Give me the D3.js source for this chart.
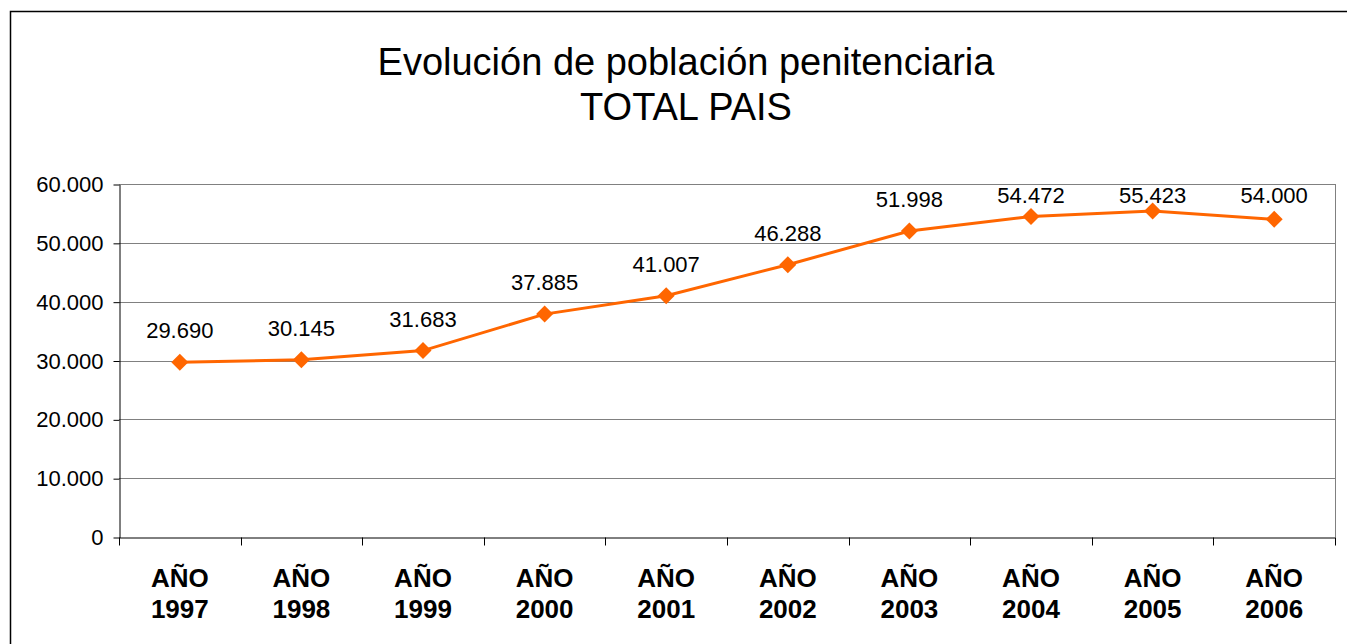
<!DOCTYPE html>
<html>
<head>
<meta charset="utf-8">
<script src="https://cdn.jsdelivr.net/npm/d3@7"></script>
<style>
  body { margin: 0; background: #fff; }
  svg { display: block; font-family: "Liberation Sans", Arial, sans-serif; }
</style>
</head>
<body>
<div id="grafico"></div>
<script>
// Datos de la grafica
var anios = ["1997", "1998", "1999", "2000", "2001", "2002", "2003", "2004", "2005", "2006"]
var poblacion = [29690, 30145, 31683, 37885, 41007, 46288, 51998, 54472, 55423, 54000]
var ticksY = [0, 10000, 20000, 30000, 40000, 50000, 60000]
var titulo = ["Evolución de población penitenciaria", "TOTAL PAIS"]

var width = 1347
var height = 644
var margin = { top: 184, right: 12, bottom: 107, left: 119 }

// formato con punto de miles
var formato = d3.formatLocale({ decimal: ",", thousands: ".", grouping: [3], currency: ["", ""] }).format(",d")

var svg = d3.select("#grafico")
    .append("svg")
    .attr("width", width)
    .attr("height", height)

// marco exterior
svg.append("rect")
    .attr("x", 10.5)
    .attr("y", 11.5)
    .attr("width", width + 20)
    .attr("height", height + 20)
    .attr("fill", "none")
    .attr("stroke", "#000")
    .attr("stroke-width", 1.5)

// titulo
svg.append("g")
    .selectAll("text")
    .data(titulo)
    .join("text")
    .attr("x", 686)
    .attr("y", (d, i) => 75 + i * 45)
    .attr("text-anchor", "middle")
    .attr("font-size", "38px")
    .attr("fill", "#000")
    .text(d => d)

var x = d3.scaleBand()
    .domain(anios)
    .range([margin.left, width - margin.right])

var y = d3.scaleLinear()
    .domain([0, 60000])
    .range([height - margin.bottom, margin.top])

// lineas de cuadricula
svg.append("g")
    .selectAll("line")
    .data(ticksY.filter(d => d > 0))
    .join("line")
    .attr("x1", margin.left)
    .attr("x2", width - margin.right)
    .attr("y1", d => Math.round(y(d)) + 0.5)
    .attr("y2", d => Math.round(y(d)) + 0.5)
    .attr("stroke", "#808080")
    .attr("stroke-width", 1)

// borde derecho del area
svg.append("line")
    .attr("x1", width - margin.right + 0.5)
    .attr("x2", width - margin.right + 0.5)
    .attr("y1", margin.top)
    .attr("y2", height - margin.bottom)
    .attr("stroke", "#808080")

// eje Y
var yAxis = svg.append("g")
    .attr("transform", "translate(" + (margin.left + 0.5) + ",0.5)")
    .call(d3.axisLeft(y).tickValues(ticksY).tickFormat(formato).tickSize(6).tickSizeOuter(0).tickPadding(10))
yAxis.select(".domain").attr("stroke", "#000")
yAxis.selectAll(".tick line").attr("stroke", "#000")
yAxis.selectAll("text")
    .attr("font-size", "22px")
    .attr("font-family", "Liberation Sans, Arial, sans-serif")
    .attr("fill", "#000")

// eje X
var xAxis = svg.append("g")
    .attr("transform", "translate(0," + (Math.round(y(0)) + 0.5) + ")")
    .call(d3.axisBottom(x).tickSize(0).tickFormat(""))
xAxis.select(".domain").attr("stroke", "#000")
xAxis.selectAll(".tick").remove()

// marcas entre categorias
var bordes = anios.map(d => x(d)).concat([width - margin.right])
xAxis.append("g")
    .selectAll("line")
    .data(bordes)
    .join("line")
    .attr("x1", d => Math.round(d) + 0.5)
    .attr("x2", d => Math.round(d) + 0.5)
    .attr("y1", 0)
    .attr("y2", 8)
    .attr("stroke", "#000")

// etiquetas de categorias
var etiquetas = svg.append("g")
    .selectAll("text")
    .data(anios)
    .join("text")
    .attr("x", d => x(d) + x.bandwidth() / 2)
    .attr("text-anchor", "middle")
    .attr("font-size", "26px")
    .attr("font-weight", "bold")
    .attr("fill", "#000")
etiquetas.append("tspan")
    .attr("x", d => x(d) + x.bandwidth() / 2)
    .attr("y", 587)
    .text("AÑO")
etiquetas.append("tspan")
    .attr("x", d => x(d) + x.bandwidth() / 2)
    .attr("y", 618)
    .text(d => d)

// linea
var datos = anios.map((a, i) => ({ anio: a, valor: poblacion[i] }))
var linea = d3.line()
    .x(d => x(d.anio) + x.bandwidth() / 2)
    .y(d => y(d.valor))

svg.append("path")
    .datum(datos)
    .attr("d", linea)
    .attr("fill", "none")
    .attr("stroke", "#FF6600")
    .attr("stroke-width", 3)

// marcadores en rombo
svg.append("g")
    .selectAll("path")
    .data(datos)
    .join("path")
    .attr("transform", d => "translate(" + (x(d.anio) + x.bandwidth() / 2) + "," + y(d.valor) + ")")
    .attr("d", "M0,-8.5L8.5,0L0,8.5L-8.5,0Z")
    .attr("fill", "#FF6600")

// etiquetas de valores (las de arriba no suben del borde superior)
svg.append("g")
    .selectAll("text")
    .data(datos)
    .join("text")
    .attr("x", d => x(d.anio) + x.bandwidth() / 2)
    .attr("y", d => Math.max(y(d.valor) - 24, margin.top + 19))
    .attr("text-anchor", "middle")
    .attr("font-size", "22px")
    .attr("fill", "#000")
    .text(d => formato(d.valor))
</script>
</body>
</html>
